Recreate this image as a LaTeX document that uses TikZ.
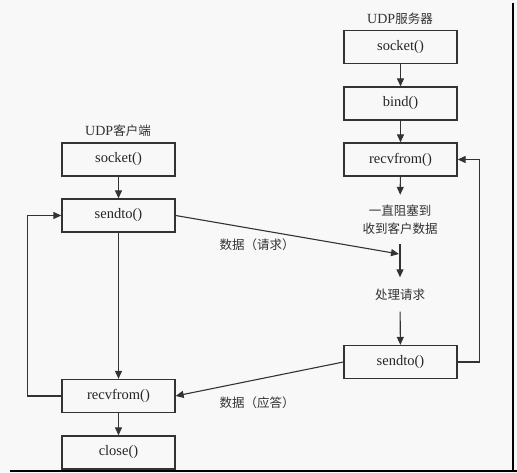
\documentclass[tikz,border=0pt]{standalone}
\usepackage{fontspec}
\setmainfont{Liberation Serif}
\newfontfamily\cjk{Noto Sans CJK SC}
\usetikzlibrary{arrows.meta}
\definecolor{bg}{HTML}{F8F8F8}
\definecolor{ln}{HTML}{333333}
\tikzset{
  box/.style={draw=ln, line width=1.3pt, minimum width=113pt, minimum height=33pt, inner sep=0pt, font=\fontsize{14.5}{16}\selectfont, text=black!85},
  cn/.style={font=\cjk\fontsize{12.5}{18}\selectfont, text=black!80, align=center},
  arr/.style={draw=ln, line width=1.1pt, -{Triangle[length=8pt,width=7pt]}},
  ln/.style={draw=ln, line width=1.1pt}
}
\begin{document}
\begin{tikzpicture}[x=1pt,y=-1pt]
\fill[bg] (0,0) rectangle (517,473);
\useasboundingbox (0,0) rectangle (517,473);
% server
\node[cn] (st) at (400,19) {{\fontspec{Liberation Serif}\fontsize{14}{16}\selectfont UDP}服务器};
\node[box] (ssock) at (400.5,47) {socket()};
\node[box] (sbind) at (400.5,103.5) {bind()};
\node[box] (srecv) at (400.5,159.5) {recvfrom()};
\node[cn, inner sep=0pt, minimum height=49pt] (sblock) at (400,219.5) {一直阻塞到\\收到客户数据};
\node[cn, inner sep=0pt, minimum height=34pt] (sproc) at (400,294.5) {处理请求};
\node[box] (ssend) at (400.5,362) {sendto()};
% client
\node[cn] (ct) at (118,131) {{\fontspec{Liberation Serif}\fontsize{14}{16}\selectfont UDP}客户端};
\node[box] (csock) at (118.5,159.5) {socket()};
\node[box] (csend) at (118.5,215.5) {sendto()};
\node[box] (crecv) at (118.5,396) {recvfrom()};
\node[box] (cclose) at (118.5,452.5) {close()};
% labels
\node[cn] (lreq) at (257,245) {数据（请求）};
\node[cn] (lresp) at (257,403) {数据（应答）};
% server flow
\draw[arr] (ssock) -- (sbind);
\draw[arr] (sbind) -- (srecv);
\draw[arr] (srecv) -- (sblock);
\draw[arr] (sblock) -- (sproc);
\draw[arr] (sproc) -- (ssend);
\draw[arr] (ssend.east) -- ++(22,0) |- (srecv.east);
% client flow
\draw[arr] (csock) -- (csend);
\draw[arr] (csend) -- (crecv);
\draw[arr] (crecv) -- (cclose);
\draw[arr] (crecv.west) -- ++(-34,0) |- (csend.west);
% data
\coordinate (rq) at (399,254);
\draw[arr] (csend.east) -- (rq);
\draw[arr] (ssend.west) -- (crecv.east);
% screenshot frame
\draw[black, line width=2pt] (513,3) -- (513,471);
\draw[black, line width=2pt] (10,471) -- (517,471);
\end{tikzpicture}
\end{document}
